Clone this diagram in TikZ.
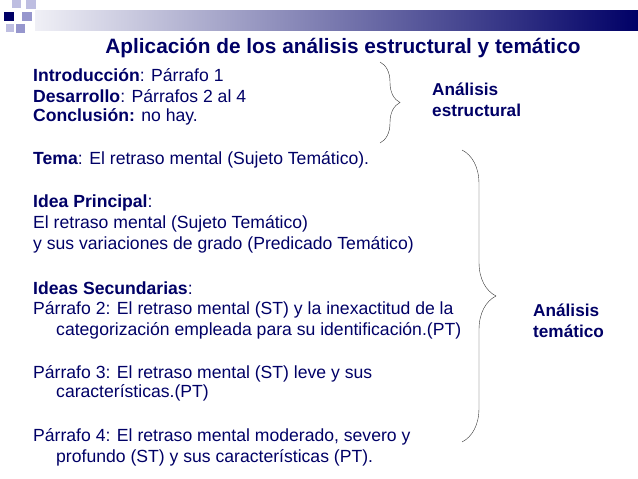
\documentclass[tikz,border=0pt]{standalone}
\usepackage{fontspec}
\setmainfont{Liberation Sans}
\usetikzlibrary{positioning,decorations.pathreplacing}
\definecolor{navy}{RGB}{0,0,102}
\definecolor{sqlight}{RGB}{190,190,225}
\definecolor{sqmid}{RGB}{150,150,205}

\begin{document}
\begin{tikzpicture}[x=1pt,y=-1pt]
    \tikzstyle{line} = [anchor=west, inner sep=0pt, text=navy, font=\fontsize{17.6}{20}\selectfont];
    \tikzstyle{side} = [anchor=west, inner sep=0pt, text=navy, font=\fontsize{17.2}{21}\selectfont\bfseries, align=left];
    \tikzstyle{brace} = [decorate, decoration={brace, amplitude=20pt}, thin, black!80];

    \useasboundingbox (0,0) rectangle (638,479);

    % top bar and squares
    \shade[left color=white!80!navy!30, right color=navy] (35,10) rectangle (638,30);
    \fill[navy] (4,12) rectangle (14,21);
    \fill[sqlight] (12,0) rectangle (21,8);
    \fill[sqlight] (26,0) rectangle (36,9);
    \fill[sqmid] (22,12) rectangle (32,21);
    \fill[sqlight] (6,24) rectangle (14,32);
    \fill[sqmid] (16,24) rectangle (25,33);

    % title
    \node[text=navy, font=\fontsize{20.8}{24}\selectfont\bfseries, inner sep=0pt] (title) at (343,48) {Aplicación de los análisis estructural y temático};

    % left column
    \node[line] (intro) at (33,75) {\textbf{Introducción}: Párrafo 1};
    \node[line] (desa) at (33,96) {\textbf{Desarrollo}: Párrafos 2 al 4};
    \node[line] (concl) at (33,117) {\textbf{Conclusión:} no hay.};
    \node[line] (tema) at (33,160) {\textbf{Tema}: El retraso mental (Sujeto Temático).};
    \node[line] (idea) at (33,203) {\textbf{Idea Principal}:};
    \node[line] (ideaa) at (33,224) {El retraso mental (Sujeto Temático)};
    \node[line] (ideab) at (33,245) {y sus variaciones de grado (Predicado Temático)};
    \node[line] (sec) at (33,288) {\textbf{Ideas Secundarias}:};
    \node[line] (p2a) at (33,310) {Párrafo 2: El retraso mental (ST) y la inexactitud de la};
    \node[line] (p2b) at (56,331) {categorización empleada para su identificación.(PT)};
    \node[line] (p3a) at (33,374) {Párrafo 3: El retraso mental (ST) leve y sus};
    \node[line] (p3b) at (56,393) {características.(PT)};
    \node[line] (p4a) at (33,437) {Párrafo 4: El retraso mental moderado, severo y};
    \node[line] (p4b) at (56,458) {profundo (ST) y sus características (PT).};

    % braces and labels
    \coordinate (b1top) at (380,62);
    \coordinate (b1bot) at (380,143);
    \coordinate (b2top) at (462,150);
    \coordinate (b2bot) at (462,442);
    \draw[brace] (b1top) -- (b1bot);
    \draw[brace, decoration={amplitude=34pt}] (b2top) -- (b2bot);

    \node[side] (estr) at (432,100) {Análisis\\estructural};
    \node[side] (tem) at (533,321) {Análisis\\temático};
\end{tikzpicture}
\end{document}
